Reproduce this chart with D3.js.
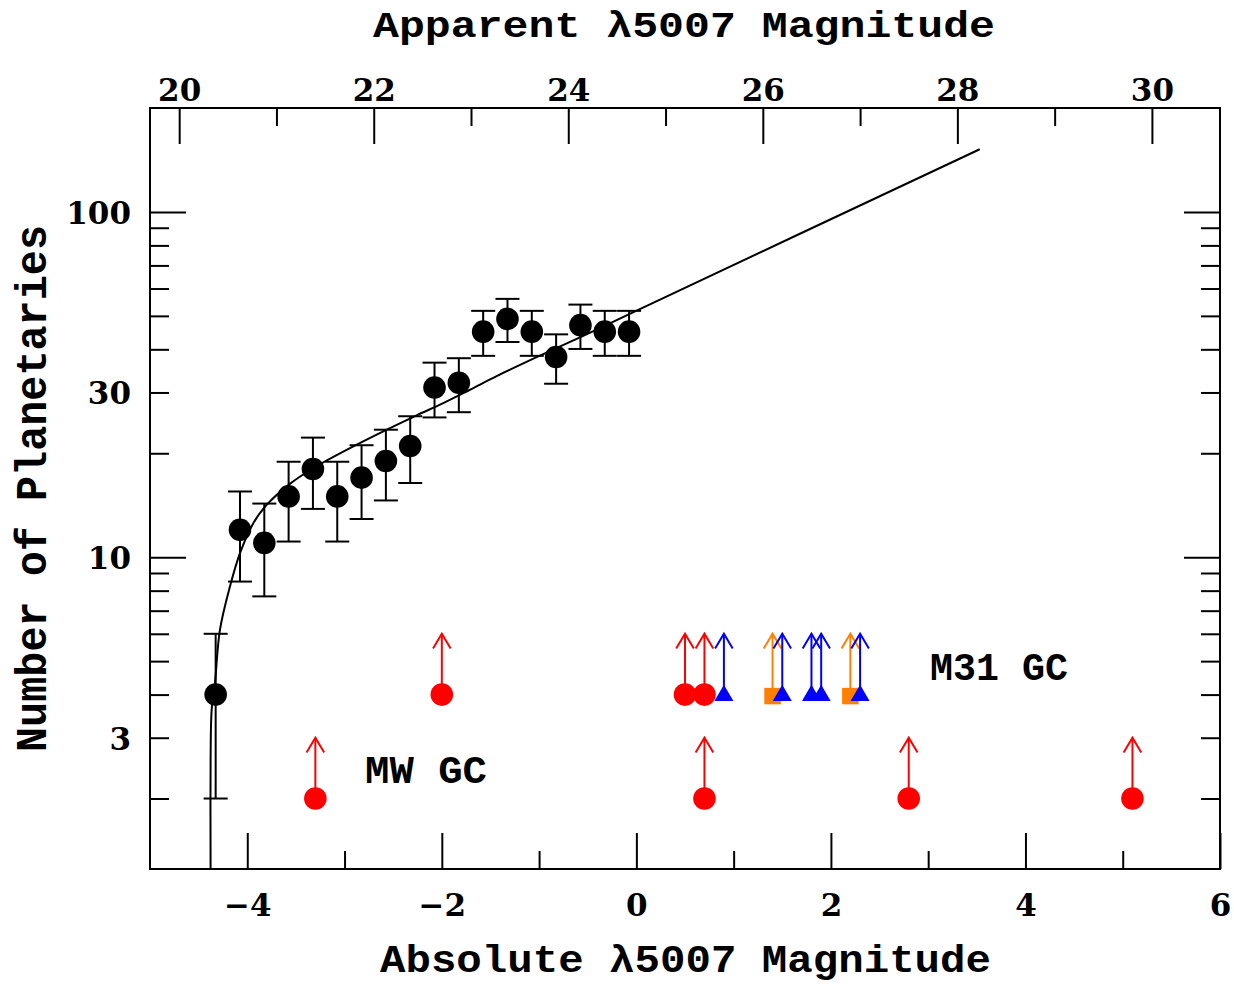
<!DOCTYPE html>
<html>
<head>
<meta charset="utf-8">
<script src="https://cdn.jsdelivr.net/npm/d3@7"></script>
<style>
  html, body { margin: 0; padding: 0; background: #ffffff; }
  svg { display: block; }
</style>
</head>
<body>
<div id="chart"></div>
<script>
// ---------------- DATA ----------------
// Planetary nebula luminosity function (absolute [O III] lambda5007 magnitude bins)
const binMag = [-4.325, -4.075, -3.825, -3.575, -3.325, -3.075, -2.825, -2.575, -2.325,
                -2.075, -1.825, -1.575, -1.325, -1.075, -0.825, -0.575, -0.325, -0.075];
const binCount = [4, 12, 11, 15, 18, 15, 17, 19, 21, 31, 32, 45, 49, 45, 38, 47, 45, 45];
const binErrHi = [6, 15.5, 14.3, 18.9, 22.2, 18.9, 21.1, 23.4, 25.6, 36.6, 37.7, 51.7, 56, 51.7, 44.2, 53.9, 51.7, 51.7];
const binErrLo = [2, 8.5, 7.7, 11.1, 13.8, 11.1, 12.9, 14.6, 16.4, 25.4, 26.3, 38.3, 42, 38.3, 31.8, 40.1, 38.3, 38.3];

// Fitted luminosity-function curve
const fitMag = [-4.377, -4.377, -4.366, -4.332, -4.281, -4.178, -4.075, -3.938, -3.801, -3.562, -3.322,
                -3.081, -2.808, -2.533, -2.259, -1.985, -1.711, -1.436, -1.025, -0.546, 0.003, 3.53];
const fitCount = [1.25, 2.59, 3.62, 4.33, 6.16, 8.22, 10.27, 12.55, 14.17, 16.31, 18.10,
                  19.75, 21.65, 23.65, 25.75, 27.95, 30.55, 33.45, 37.95, 43.75, 51.8, 151.9];

// M31 globular-cluster PNe (lower limits)
const m31RedMag = [-2.0, 0.5, 0.7];
const m31OrangeMag = [1.4, 2.2];
const m31BlueMag = [0.9, 1.5, 1.8, 1.9, 2.3];
const m31Level = 4, m31ArrowTo = 6;
// Milky Way globular-cluster PNe (lower limits)
const mwRedMag = [-3.3, 0.7, 2.8, 5.1];
const mwLevel = 2, mwArrowTo = 3;

const distanceModulus = 24.7;

const xDomain = [-5, 6];
const yDomain = [1.25, 200];
const bottomMajor = [-4, -2, 0, 2, 4, 6];
const bottomMinor = [-3, -1, 1, 3, 5];
const topMajor = [20, 22, 24, 26, 28, 30];
const topMinor = [21, 23, 25, 27, 29];
const leftMajor = [10, 100];
const leftMinor = [2, 3, 4, 5, 6, 7, 8, 9, 20, 30, 40, 50, 60, 70, 80, 90];
const leftLabels = [3, 10, 30, 100];

// ---------------- DRAWING ----------------
const W = 1234, H = 986;
const L = 150, R = 1220, T = 108, B = 869;
const svg = d3.select("#chart").append("svg").attr("width", W).attr("height", H);
svg.append("rect").attr("width", W).attr("height", H).attr("fill", "#fff");

const x = d3.scaleLinear().domain(xDomain).range([L, R]);
const xTop = d3.scaleLinear().domain(xDomain.map(d => d + distanceModulus)).range([L, R]);
const y = d3.scaleLog().domain(yDomain).range([B, T]);

const tickFont = "'DejaVu Serif', serif";
const titleFont = "'Liberation Mono', 'Courier New', monospace";
const fmtNum = d => d < 0 ? "\u2212" + Math.abs(d) : String(d);

function styleAxis(g) {
  g.select(".domain").remove();
  g.selectAll(".tick line").attr("stroke", "#000").attr("stroke-width", 2);
  g.selectAll(".tick text").attr("fill", "#000").attr("font-family", tickFont)
    .attr("font-weight", "bold").attr("font-size", 31);
}

// bottom
svg.append("g").attr("transform", `translate(0,${B})`)
  .call(d3.axisBottom(x).tickValues(bottomMajor).tickSize(-36).tickFormat(fmtNum))
  .call(styleAxis)
  .call(g => g.selectAll(".tick text").attr("y", 47).attr("dy", 0));
svg.append("g").attr("transform", `translate(0,${B})`)
  .call(d3.axisBottom(x).tickValues(bottomMinor).tickSize(-18).tickFormat(""))
  .call(styleAxis);
// top
svg.append("g").attr("transform", `translate(0,${T})`)
  .call(d3.axisTop(xTop).tickValues(topMajor).tickSize(-36).tickFormat(fmtNum))
  .call(styleAxis)
  .call(g => g.selectAll(".tick text").attr("y", -7).attr("dy", 0));
svg.append("g").attr("transform", `translate(0,${T})`)
  .call(d3.axisTop(xTop).tickValues(topMinor).tickSize(-18).tickFormat(""))
  .call(styleAxis);
// left
svg.append("g").attr("transform", `translate(${L},0)`)
  .call(d3.axisLeft(y).tickValues(leftMajor).tickSize(-36).tickFormat(""))
  .call(styleAxis);
svg.append("g").attr("transform", `translate(${L},0)`)
  .call(d3.axisLeft(y).tickValues(leftMinor).tickSize(-19).tickFormat(""))
  .call(styleAxis);
svg.append("g").attr("transform", `translate(${L},0)`)
  .call(d3.axisLeft(y).tickValues(leftLabels).tickSize(0).tickFormat(d => String(d)))
  .call(styleAxis)
  .call(g => g.selectAll(".tick text").attr("x", -19).attr("dy", 11.5));
// right
svg.append("g").attr("transform", `translate(${R},0)`)
  .call(d3.axisRight(y).tickValues(leftMajor).tickSize(-36).tickFormat(""))
  .call(styleAxis);
svg.append("g").attr("transform", `translate(${R},0)`)
  .call(d3.axisRight(y).tickValues(leftMinor).tickSize(-19).tickFormat(""))
  .call(styleAxis);

// frame
svg.append("rect").attr("x", L).attr("y", T).attr("width", R - L).attr("height", B - T)
  .attr("fill", "none").attr("stroke", "#000").attr("stroke-width", 2);

// titles
function title(txt, xx, yy, len, size, rot) {
  const t = svg.append("text").text(txt)
    .attr("font-family", titleFont).attr("font-weight", "bold").attr("font-size", size)
    .attr("fill", "#000").attr("textLength", len).attr("lengthAdjust", "spacingAndGlyphs");
  if (rot) t.attr("transform", `translate(${xx},${yy}) rotate(-90)`);
  else t.attr("x", xx).attr("y", yy);
  return t;
}
title("Apparent \u03bb5007 Magnitude", 373, 37, 622, 36);
title("Absolute \u03bb5007 Magnitude", 380, 972, 611, 38);
title("Number of Planetaries", 46, 752, 527, 44, true);
title("MW GC", 365, 783, 122, 38);
title("M31 GC", 930, 680, 138, 39);

// fitted curve
const fitPts = fitMag.map((m, i) => [m, fitCount[i]]);
const plot = svg.append("g");
plot.append("path").datum(fitPts)
  .attr("d", d3.line().x(d => x(d[0])).y(d => y(d[1])).curve(d3.curveCatmullRom.alpha(0.5)))
  .attr("fill", "none").attr("stroke", "#000").attr("stroke-width", 2);

// error bars
const bins = binMag.map((m, i) => ({ m, n: binCount[i], hi: binErrHi[i], lo: binErrLo[i] }));
const eb = plot.append("g").attr("stroke", "#000").attr("stroke-width", 2);
const capHalf = 12;
bins.forEach(d => {
  eb.append("line").attr("x1", x(d.m)).attr("x2", x(d.m)).attr("y1", y(d.hi)).attr("y2", y(d.lo));
  eb.append("line").attr("x1", x(d.m) - capHalf).attr("x2", x(d.m) + capHalf).attr("y1", y(d.hi)).attr("y2", y(d.hi));
  eb.append("line").attr("x1", x(d.m) - capHalf).attr("x2", x(d.m) + capHalf).attr("y1", y(d.lo)).attr("y2", y(d.lo));
});
plot.append("g").selectAll("circle").data(bins).join("circle")
  .attr("cx", d => x(d.m)).attr("cy", d => y(d.n)).attr("r", 11.3).attr("fill", "#000");

// lower-limit arrows + markers
function arrow(g, m, from, to, color) {
  const xx = x(m), y0 = y(from), y1 = y(to);
  g.append("line").attr("x1", xx).attr("x2", xx).attr("y1", y0).attr("y2", y1)
    .attr("stroke", color).attr("stroke-width", 2);
  g.append("path").attr("d", `M${xx - 8.8},${y1 + 14.7}L${xx},${y1}L${xx + 8.8},${y1 + 14.7}`)
    .attr("fill", "none").attr("stroke", color).attr("stroke-width", 2);
}
const RED = "#ff0000", BLUE = "#0000ff", ORANGE = "#ff8000";
const gc = svg.append("g");
m31RedMag.forEach(m => arrow(gc, m, m31Level, m31ArrowTo, RED));
mwRedMag.forEach(m => arrow(gc, m, mwLevel, mwArrowTo, RED));
m31OrangeMag.forEach(m => arrow(gc, m, m31Level, m31ArrowTo, ORANGE));
m31BlueMag.forEach(m => arrow(gc, m, m31Level, m31ArrowTo, BLUE));

gc.append("g").selectAll("circle").data(m31RedMag.map(m => [m, m31Level]).concat(mwRedMag.map(m => [m, mwLevel])))
  .join("circle").attr("cx", d => x(d[0])).attr("cy", d => y(d[1])).attr("r", 11.3).attr("fill", RED);
gc.append("g").selectAll("path").data(m31OrangeMag).join("path")
  .attr("d", d3.symbol().type(d3.symbolSquare).size(16.5 * 16.5))
  .attr("transform", d => `translate(${x(d)},${y(m31Level) + 1.5})`).attr("fill", ORANGE);
gc.append("g").selectAll("path").data(m31BlueMag).join("path")
  .attr("d", d3.symbol().type(d3.symbolTriangle).size(156))
  .attr("transform", d => `translate(${x(d)},${y(m31Level) + 1})`).attr("fill", BLUE);
</script>
</body>
</html>
